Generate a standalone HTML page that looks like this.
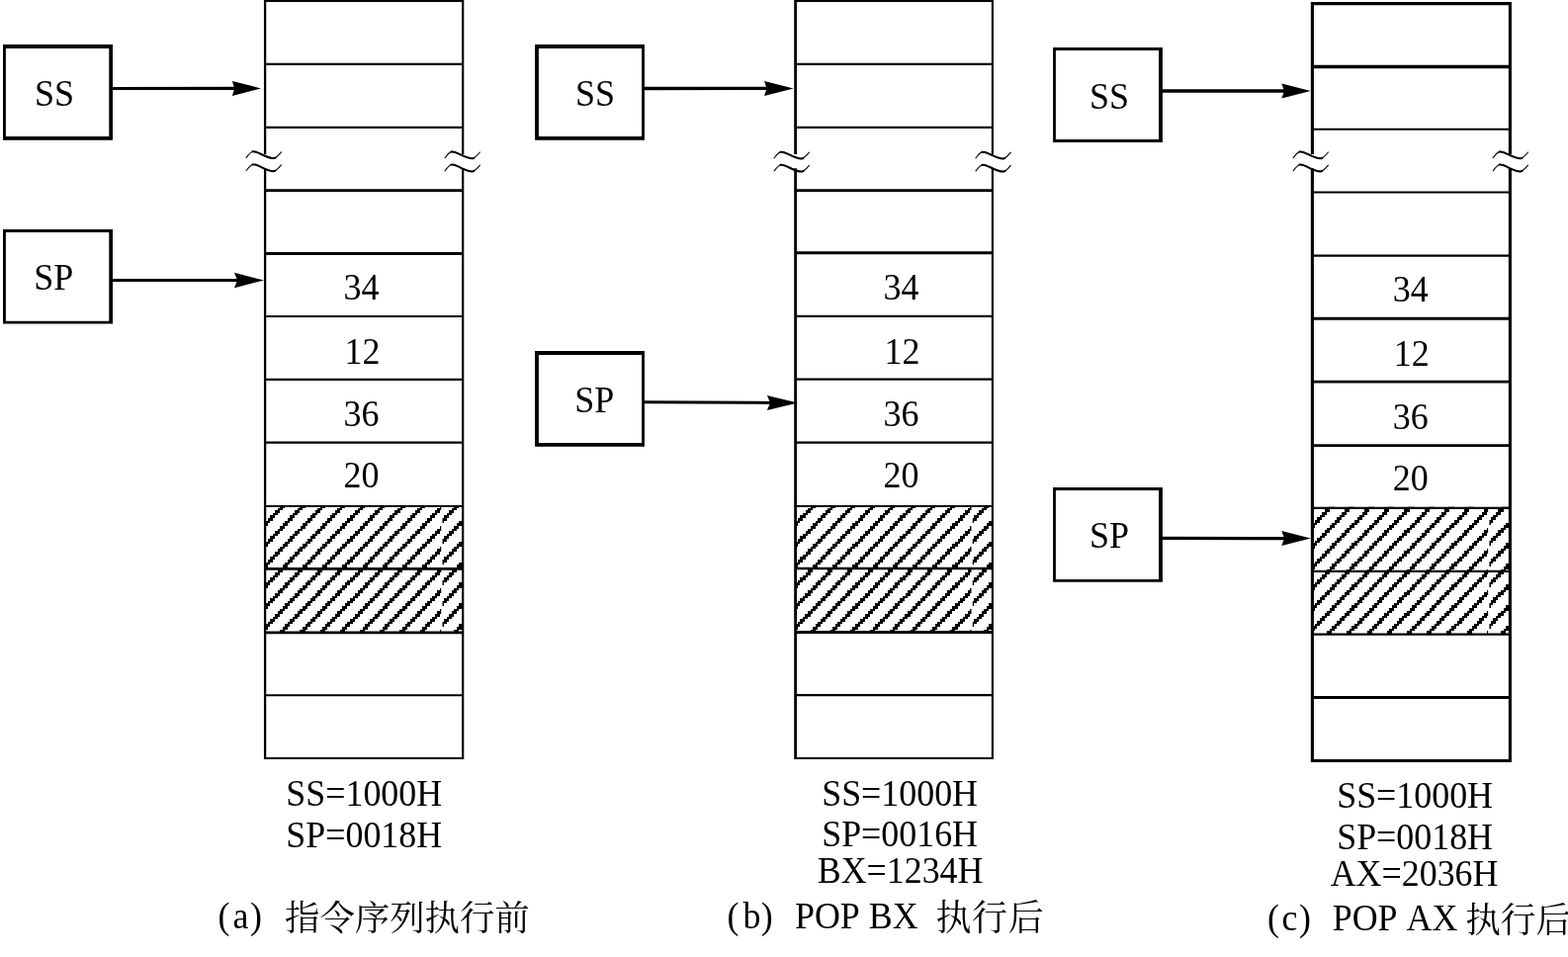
<!DOCTYPE html>
<html lang="zh"><head><meta charset="utf-8"><title>Stack POP diagram</title>
<style>html,body{margin:0;padding:0;background:#fff;}body{width:1586px;height:968px;overflow:hidden;position:relative;font-family:"Liberation Serif",serif;}</style>
</head><body>
<svg width="1586" height="968" viewBox="0 0 1586 968" style="position:absolute;left:0;top:0;will-change:transform;opacity:0.999;font-kerning:none;font-family:'Liberation Serif',serif" fill="#000">
<defs>
<path id="hl" shape-rendering="crispEdges" d="M0,0 v2.6175 h-2.525 v2.6175 h-2.525 v2.6175 h-2.525 v2.6175 h-2.525 v2.6175 h-2.525 v2.6175 h-2.525 v2.6175 h-2.525 v2.6175 h-2.525 v2.6175 h-2.525 v2.6175 h-2.525 v2.6175 h-2.525 v2.6175 h-2.525 v2.6175 h-2.525 v2.6175 h-2.525 v2.6175 h-2.525 v2.6175 h-2.525 v2.6175 h-2.525 v2.6175 h-2.525 v2.6175 h-2.525 v2.6175 h-2.525 v2.6175 h-2.525 v2.6175 h-2.525 v2.6175 h-2.525 v2.6175 h-2.525 v2.6175 h-2.525 v2.6175 h-2.525 v2.6175 h-2.525 v2.6175 h-2.525 v2.6175 h-2.525 v2.6175 h-2.525 v2.6175 h-2.525 v2.6175 h-2.525 v2.6175 h-2.525 v2.6175 h-2.525 v2.6175 h-2.525 v2.6175 h-2.525 v2.6175 h-2.525 v2.6175 h-2.525 v2.6175 h-2.525 v2.6175 h-2.525 v2.6175 h-2.525 v2.6175 h-2.525 v2.6175 h-2.525 v2.6175 h-2.525 v2.6175 h-2.525 v2.6175 h-2.525 v2.6175 h-2.525 v2.6175 h-2.525 v2.6175 h-2.525 h7.575 v-2.6175 h2.525 v-2.6175 h2.525 v-2.6175 h2.525 v-2.6175 h2.525 v-2.6175 h2.525 v-2.6175 h2.525 v-2.6175 h2.525 v-2.6175 h2.525 v-2.6175 h2.525 v-2.6175 h2.525 v-2.6175 h2.525 v-2.6175 h2.525 v-2.6175 h2.525 v-2.6175 h2.525 v-2.6175 h2.525 v-2.6175 h2.525 v-2.6175 h2.525 v-2.6175 h2.525 v-2.6175 h2.525 v-2.6175 h2.525 v-2.6175 h2.525 v-2.6175 h2.525 v-2.6175 h2.525 v-2.6175 h2.525 v-2.6175 h2.525 v-2.6175 h2.525 v-2.6175 h2.525 v-2.6175 h2.525 v-2.6175 h2.525 v-2.6175 h2.525 v-2.6175 h2.525 v-2.6175 h2.525 v-2.6175 h2.525 v-2.6175 h2.525 v-2.6175 h2.525 v-2.6175 h2.525 v-2.6175 h2.525 v-2.6175 h2.525 v-2.6175 h2.525 v-2.6175 h2.525 v-2.6175 h2.525 v-2.6175 h2.525 v-2.6175 h2.525 v-2.6175 h2.525 v-2.6175 h2.525 v-2.6175 h2.525 v-2.6175 h2.525 v-2.6175 h2.525 v-2.6175 h2.525 v-2.6175 h2.525 Z"/>
<g id="hg"><use href="#hl" x="-5.05"/><use href="#hl" x="15.15"/><use href="#hl" x="35.35"/><use href="#hl" x="55.55"/><use href="#hl" x="75.75"/><use href="#hl" x="95.95"/><use href="#hl" x="116.15"/><use href="#hl" x="136.35"/><use href="#hl" x="156.55"/><use href="#hl" x="176.75"/><use href="#hl" x="196.95"/><use href="#hl" x="217.15"/><use href="#hl" x="237.35"/><use href="#hl" x="257.55"/><use href="#hl" x="277.75"/><use href="#hl" x="297.95"/><use href="#hl" x="318.15"/><use href="#hl" x="338.35"/></g>
<clipPath id="hc1"><rect x="0" y="0" width="178.1" height="128.6"/></clipPath>
<clipPath id="hc2"><rect x="179.4" y="0" width="20.3" height="128.6"/></clipPath>
</defs>
<g transform="translate(268.15 510.95)"><g clip-path="url(#hc1)"><use href="#hg"/></g><g clip-path="url(#hc2)"><use href="#hg" x="14.2"/></g></g>
<path d="M268.1,-0.05 V155.9 M268.1,170.2 V768.05" stroke="#000" stroke-width="2.3" fill="none"/>
<path d="M468.2,-0.05 V155.9 M468.2,170.2 V768.05" stroke="#000" stroke-width="2.2" fill="none"/>
<path d="M268.1,1 H468.2" stroke="#000" stroke-width="2.1"/>
<path d="M268.1,64.8 H468.2" stroke="#000" stroke-width="2.15"/>
<path d="M268.1,128.8 H468.2" stroke="#000" stroke-width="2.15"/>
<path d="M268.1,192.6 H468.2" stroke="#000" stroke-width="2.9"/>
<path d="M268.1,256.4 H468.2" stroke="#000" stroke-width="3"/>
<path d="M268.1,320 H468.2" stroke="#000" stroke-width="2.2"/>
<path d="M268.1,383.8 H468.2" stroke="#000" stroke-width="2.15"/>
<path d="M268.1,447.7 H468.2" stroke="#000" stroke-width="2.2"/>
<path d="M268.1,512 H468.2" stroke="#000" stroke-width="2.1"/>
<path d="M268.1,575.4 H468.2" stroke="#000" stroke-width="2.6"/>
<path d="M268.1,639.9 H468.2" stroke="#000" stroke-width="2.9"/>
<path d="M268.1,703.3 H468.2" stroke="#000" stroke-width="2.1"/>
<path d="M268.1,767 H468.2" stroke="#000" stroke-width="2.1"/>
<g transform="translate(256.5 153.2)" fill="none" stroke="#000" stroke-linecap="round"><path d="M-7.4,6.2 C-5.5,4 -3.4,0.1 0,0 C4.5,-0.1 14,6.9 19.8,6.9 C22.8,6.9 25.5,3.6 27.9,0.6" stroke-width="1.1"/><path d="M-1,0.1 Q0,0 1.5,0.3 C6,1.2 14,6.9 19.8,6.9 Q21,6.9 22,6.4" stroke-width="2"/></g>
<g transform="translate(256.5 166.3)" fill="none" stroke="#000" stroke-linecap="round"><path d="M-7.4,6.2 C-5.5,4 -3.4,0.1 0,0 C4.5,-0.1 14,6.9 19.8,6.9 C22.8,6.9 25.5,3.6 27.9,0.6" stroke-width="1.1"/><path d="M-1,0.1 Q0,0 1.5,0.3 C6,1.2 14,6.9 19.8,6.9 Q21,6.9 22,6.4" stroke-width="2"/></g>
<g transform="translate(457.5 153.4)" fill="none" stroke="#000" stroke-linecap="round"><path d="M-7.4,6.2 C-5.5,4 -3.4,0.1 0,0 C4.5,-0.1 14,6.9 19.8,6.9 C22.8,6.9 25.5,3.6 27.9,0.6" stroke-width="1.1"/><path d="M-1,0.1 Q0,0 1.5,0.3 C6,1.2 14,6.9 19.8,6.9 Q21,6.9 22,6.4" stroke-width="2"/></g>
<g transform="translate(457.5 166.5)" fill="none" stroke="#000" stroke-linecap="round"><path d="M-7.4,6.2 C-5.5,4 -3.4,0.1 0,0 C4.5,-0.1 14,6.9 19.8,6.9 C22.8,6.9 25.5,3.6 27.9,0.6" stroke-width="1.1"/><path d="M-1,0.1 Q0,0 1.5,0.3 C6,1.2 14,6.9 19.8,6.9 Q21,6.9 22,6.4" stroke-width="2"/></g>
<text transform="translate(347.5 303) scale(1 1.035)" font-size="36" text-anchor="start">34</text>
<text transform="translate(348.5 368) scale(1 1.035)" font-size="36" text-anchor="start">12</text>
<text transform="translate(347.5 431.4) scale(1 1.035)" font-size="36" text-anchor="start">36</text>
<text transform="translate(347.5 492.9) scale(1 1.035)" font-size="36" text-anchor="start">20</text>
<g transform="translate(804.4 510.95)"><g clip-path="url(#hc1)"><use href="#hg"/></g><g clip-path="url(#hc2)"><use href="#hg" x="14.2"/></g></g>
<path d="M804.6,-0.05 V155.9 M804.6,170.2 V768.05" stroke="#000" stroke-width="2.8" fill="none"/>
<path d="M1003.9,-0.05 V155.9 M1003.9,170.2 V768.05" stroke="#000" stroke-width="2.1" fill="none"/>
<path d="M804.6,1 H1003.9" stroke="#000" stroke-width="2.1"/>
<path d="M804.6,64.8 H1003.9" stroke="#000" stroke-width="2.15"/>
<path d="M804.6,128.8 H1003.9" stroke="#000" stroke-width="2.15"/>
<path d="M804.6,192.6 H1003.9" stroke="#000" stroke-width="2.9"/>
<path d="M804.6,255.8 H1003.9" stroke="#000" stroke-width="3"/>
<path d="M804.6,319.8 H1003.9" stroke="#000" stroke-width="2.2"/>
<path d="M804.6,383.6 H1003.9" stroke="#000" stroke-width="2.15"/>
<path d="M804.6,447.6 H1003.9" stroke="#000" stroke-width="2.2"/>
<path d="M804.6,512 H1003.9" stroke="#000" stroke-width="2.1"/>
<path d="M804.6,575 H1003.9" stroke="#000" stroke-width="2.6"/>
<path d="M804.6,639.5 H1003.9" stroke="#000" stroke-width="2.9"/>
<path d="M804.6,703.1 H1003.9" stroke="#000" stroke-width="2.1"/>
<path d="M804.6,767 H1003.9" stroke="#000" stroke-width="2.1"/>
<g transform="translate(790.5 153.6)" fill="none" stroke="#000" stroke-linecap="round"><path d="M-7.4,6.2 C-5.5,4 -3.4,0.1 0,0 C4.5,-0.1 14,6.9 19.8,6.9 C22.8,6.9 25.5,3.6 27.9,0.6" stroke-width="1.1"/><path d="M-1,0.1 Q0,0 1.5,0.3 C6,1.2 14,6.9 19.8,6.9 Q21,6.9 22,6.4" stroke-width="2"/></g>
<g transform="translate(790.5 166.7)" fill="none" stroke="#000" stroke-linecap="round"><path d="M-7.4,6.2 C-5.5,4 -3.4,0.1 0,0 C4.5,-0.1 14,6.9 19.8,6.9 C22.8,6.9 25.5,3.6 27.9,0.6" stroke-width="1.1"/><path d="M-1,0.1 Q0,0 1.5,0.3 C6,1.2 14,6.9 19.8,6.9 Q21,6.9 22,6.4" stroke-width="2"/></g>
<g transform="translate(994.4 153.6)" fill="none" stroke="#000" stroke-linecap="round"><path d="M-7.4,6.2 C-5.5,4 -3.4,0.1 0,0 C4.5,-0.1 14,6.9 19.8,6.9 C22.8,6.9 25.5,3.6 27.9,0.6" stroke-width="1.1"/><path d="M-1,0.1 Q0,0 1.5,0.3 C6,1.2 14,6.9 19.8,6.9 Q21,6.9 22,6.4" stroke-width="2"/></g>
<g transform="translate(994.4 166.7)" fill="none" stroke="#000" stroke-linecap="round"><path d="M-7.4,6.2 C-5.5,4 -3.4,0.1 0,0 C4.5,-0.1 14,6.9 19.8,6.9 C22.8,6.9 25.5,3.6 27.9,0.6" stroke-width="1.1"/><path d="M-1,0.1 Q0,0 1.5,0.3 C6,1.2 14,6.9 19.8,6.9 Q21,6.9 22,6.4" stroke-width="2"/></g>
<text transform="translate(893.5 303) scale(1 1.035)" font-size="36" text-anchor="start">34</text>
<text transform="translate(894.5 368) scale(1 1.035)" font-size="36" text-anchor="start">12</text>
<text transform="translate(893.5 431.4) scale(1 1.035)" font-size="36" text-anchor="start">36</text>
<text transform="translate(893.5 492.9) scale(1 1.035)" font-size="36" text-anchor="start">20</text>
<g transform="translate(1327.05 512.85)"><g clip-path="url(#hc1)"><use href="#hg"/></g><g clip-path="url(#hc2)"><use href="#hg" x="14.2"/></g></g>
<path d="M1327.4,2.05 V155.9 M1327.4,170.2 V771" stroke="#000" stroke-width="3.1" fill="none"/>
<path d="M1527.4,2.05 V155.9 M1527.4,170.2 V771" stroke="#000" stroke-width="3.1" fill="none"/>
<path d="M1327.4,3.6 H1527.4" stroke="#000" stroke-width="3.1"/>
<path d="M1327.4,67.5 H1527.4" stroke="#000" stroke-width="3.3"/>
<path d="M1327.4,130.8 H1527.4" stroke="#000" stroke-width="2.1"/>
<path d="M1327.4,194.6 H1527.4" stroke="#000" stroke-width="2.0"/>
<path d="M1327.4,258.6 H1527.4" stroke="#000" stroke-width="2.1"/>
<path d="M1327.4,322.3 H1527.4" stroke="#000" stroke-width="3"/>
<path d="M1327.4,386.2 H1527.4" stroke="#000" stroke-width="2.7"/>
<path d="M1327.4,450.6 H1527.4" stroke="#000" stroke-width="2.8"/>
<path d="M1327.4,513.9 H1527.4" stroke="#000" stroke-width="2.1"/>
<path d="M1327.4,577.9 H1527.4" stroke="#000" stroke-width="2.4"/>
<path d="M1327.4,641.6 H1527.4" stroke="#000" stroke-width="2.1"/>
<path d="M1327.4,705.4 H1527.4" stroke="#000" stroke-width="3"/>
<path d="M1327.4,769.5 H1527.4" stroke="#000" stroke-width="3"/>
<g transform="translate(1315.5 153.4)" fill="none" stroke="#000" stroke-linecap="round"><path d="M-7.4,6.2 C-5.5,4 -3.4,0.1 0,0 C4.5,-0.1 14,6.9 19.8,6.9 C22.8,6.9 25.5,3.6 27.9,0.6" stroke-width="1.1"/><path d="M-1,0.1 Q0,0 1.5,0.3 C6,1.2 14,6.9 19.8,6.9 Q21,6.9 22,6.4" stroke-width="2"/></g>
<g transform="translate(1315.5 166.5)" fill="none" stroke="#000" stroke-linecap="round"><path d="M-7.4,6.2 C-5.5,4 -3.4,0.1 0,0 C4.5,-0.1 14,6.9 19.8,6.9 C22.8,6.9 25.5,3.6 27.9,0.6" stroke-width="1.1"/><path d="M-1,0.1 Q0,0 1.5,0.3 C6,1.2 14,6.9 19.8,6.9 Q21,6.9 22,6.4" stroke-width="2"/></g>
<g transform="translate(1517.6 153.4)" fill="none" stroke="#000" stroke-linecap="round"><path d="M-7.4,6.2 C-5.5,4 -3.4,0.1 0,0 C4.5,-0.1 14,6.9 19.8,6.9 C22.8,6.9 25.5,3.6 27.9,0.6" stroke-width="1.1"/><path d="M-1,0.1 Q0,0 1.5,0.3 C6,1.2 14,6.9 19.8,6.9 Q21,6.9 22,6.4" stroke-width="2"/></g>
<g transform="translate(1517.6 166.5)" fill="none" stroke="#000" stroke-linecap="round"><path d="M-7.4,6.2 C-5.5,4 -3.4,0.1 0,0 C4.5,-0.1 14,6.9 19.8,6.9 C22.8,6.9 25.5,3.6 27.9,0.6" stroke-width="1.1"/><path d="M-1,0.1 Q0,0 1.5,0.3 C6,1.2 14,6.9 19.8,6.9 Q21,6.9 22,6.4" stroke-width="2"/></g>
<text transform="translate(1408.7 305.4) scale(1 1.035)" font-size="36" text-anchor="start">34</text>
<text transform="translate(1409.7 369.7) scale(1 1.035)" font-size="36" text-anchor="start">12</text>
<text transform="translate(1408.7 433.8) scale(1 1.035)" font-size="36" text-anchor="start">36</text>
<text transform="translate(1408.7 495.6) scale(1 1.035)" font-size="36" text-anchor="start">20</text>
<path fill-rule="evenodd" d="M3,45.1 H114 V141.7 H3 Z M5.9,48.9 H110.3 V138 H5.9 Z"/>
<text transform="translate(35.1 106.9) scale(1 1.035)" font-size="36" text-anchor="start">SS</text>
<path d="M113,89.5 L254,89.4" stroke="#000" stroke-width="3.2"/>
<path d="M264,89.4 l-29.1,-7.5 l2.3,7.5 l-2.3,7.5 z"/>
<path fill-rule="evenodd" d="M3,232 H114 V327.6 H3 Z M5.9,234.9 H110.3 V324.7 H5.9 Z"/>
<text transform="translate(34.3 293.2) scale(1 1.035)" font-size="36" text-anchor="start">SP</text>
<path d="M113,283.5 L256.9,283.5" stroke="#000" stroke-width="3.1"/>
<path d="M266.9,283.5 l-29.9,-7.7 l3.1,7.7 l-3.1,7.7 z"/>
<path fill-rule="evenodd" d="M541.1,45.1 H651.9 V141.7 H541.1 Z M544.9,48.9 H649.1 V138 H544.9 Z"/>
<text transform="translate(582.1 106.9) scale(1 1.035)" font-size="36" text-anchor="start">SS</text>
<path d="M651,89.5 L792.7,89.4" stroke="#000" stroke-width="3.3"/>
<path d="M802.7,89.4 l-29.7,-7.5 l2.6,7.5 l-2.6,7.5 z"/>
<path fill-rule="evenodd" d="M541.1,355.1 H651.9 V451.7 H541.1 Z M544.9,358.9 H649.1 V448 H544.9 Z"/>
<text transform="translate(581.3 416.9) scale(1 1.035)" font-size="36" text-anchor="start">SP</text>
<path d="M651,406.7 L796.9,407.5" stroke="#000" stroke-width="3.1"/>
<path d="M806.9,407.5 l-31,-7.4 l3.2,7.4 l-3.2,7.4 z"/>
<path fill-rule="evenodd" d="M1065.1,48 H1175.9 V143.9 H1065.1 Z M1067.9,51 H1172.1 V141 H1067.9 Z"/>
<text transform="translate(1102.1 110.1) scale(1 1.035)" font-size="36" text-anchor="start">SS</text>
<path d="M1175,92 L1315.8,92" stroke="#000" stroke-width="3.7"/>
<path d="M1325.8,92 l-29.5,-7.5 l2.8,7.5 l-2.8,7.5 z"/>
<path fill-rule="evenodd" d="M1065.1,493 H1175.9 V588.7 H1065.1 Z M1067.9,496.1 H1172.1 V585.9 H1067.9 Z"/>
<text transform="translate(1102.1 554.1) scale(1 1.035)" font-size="36" text-anchor="start">SP</text>
<path d="M1175,544.4 L1315.8,544.6" stroke="#000" stroke-width="3.2"/>
<path d="M1325.8,544.6 l-29.5,-7.5 l2.8,7.5 l-2.8,7.5 z"/>
<text transform="translate(289.3 815.1) scale(1 1.035)" font-size="35.9" text-anchor="start">SS=1000H</text>
<text transform="translate(289.3 857) scale(1 1.035)" font-size="35.9" text-anchor="start">SP=0018H</text>
<text transform="translate(831.2 814.9) scale(1 1.035)" font-size="35.9" text-anchor="start">SS=1000H</text>
<text transform="translate(831.2 856.2) scale(1 1.035)" font-size="35.9" text-anchor="start">SP=0016H</text>
<text transform="translate(826.7 892.9) scale(1 1.035)" font-size="35.9" text-anchor="start">BX=1234H</text>
<text transform="translate(1352.2 817) scale(1 1.035)" font-size="35.9" text-anchor="start">SS=1000H</text>
<text transform="translate(1352.2 859.3) scale(1 1.035)" font-size="35.9" text-anchor="start">SP=0018H</text>
<text transform="translate(1345.7 895.5) scale(1 1.035)" font-size="35.9" text-anchor="start">AX=2036H</text>
<g aria-label="（a）指令序列执行前">
<text transform="translate(220.5 938.9) scale(1 1.035)" font-size="35.9" text-anchor="start">(</text>
<text transform="translate(253 938.9) scale(1 1.035)" font-size="35.9" text-anchor="start">)</text>
<text transform="translate(235.5 938.9) scale(1 1.035)" font-size="35.9" text-anchor="start">a</text>
<text x="288" y="941.4" font-size="35.4" text-anchor="start" style="font-family:'Liberation Serif','Noto Serif CJK SC',serif">指令序列执行前</text>
</g>
<g aria-label="（b） POP BX  执行后">
<text transform="translate(735.5 938.9) scale(1 1.035)" font-size="35.9" text-anchor="start">(</text>
<text transform="translate(769.7 938.9) scale(1 1.035)" font-size="35.9" text-anchor="start">)</text>
<text transform="translate(751.5 938.9) scale(1 1.035)" font-size="35.9" text-anchor="start">b</text>
<text transform="translate(804 939.3) scale(1 1.035)" font-size="35.9" text-anchor="start">POP BX</text>
<text x="946.5" y="941.4" font-size="36" letter-spacing="0.6" text-anchor="start" style="font-family:'Liberation Serif','Noto Serif CJK SC',serif">执行后</text>
</g>
<g aria-label="（c） POP AX 执行后">
<text transform="translate(1282 941) scale(1 1.035)" font-size="35.9" text-anchor="start">(</text>
<text transform="translate(1314 941) scale(1 1.035)" font-size="35.9" text-anchor="start">)</text>
<text transform="translate(1296.6 941) scale(1 1.035)" font-size="35.9" text-anchor="start">c</text>
<text transform="translate(1347.7 941) scale(1 1.035)" font-size="35.9" text-anchor="start">POP AX</text>
<text x="1482.3" y="943.3" font-size="35.6" text-anchor="start" style="font-family:'Liberation Serif','Noto Serif CJK SC',serif">执行后</text>
</g>
</svg>
</body></html>
